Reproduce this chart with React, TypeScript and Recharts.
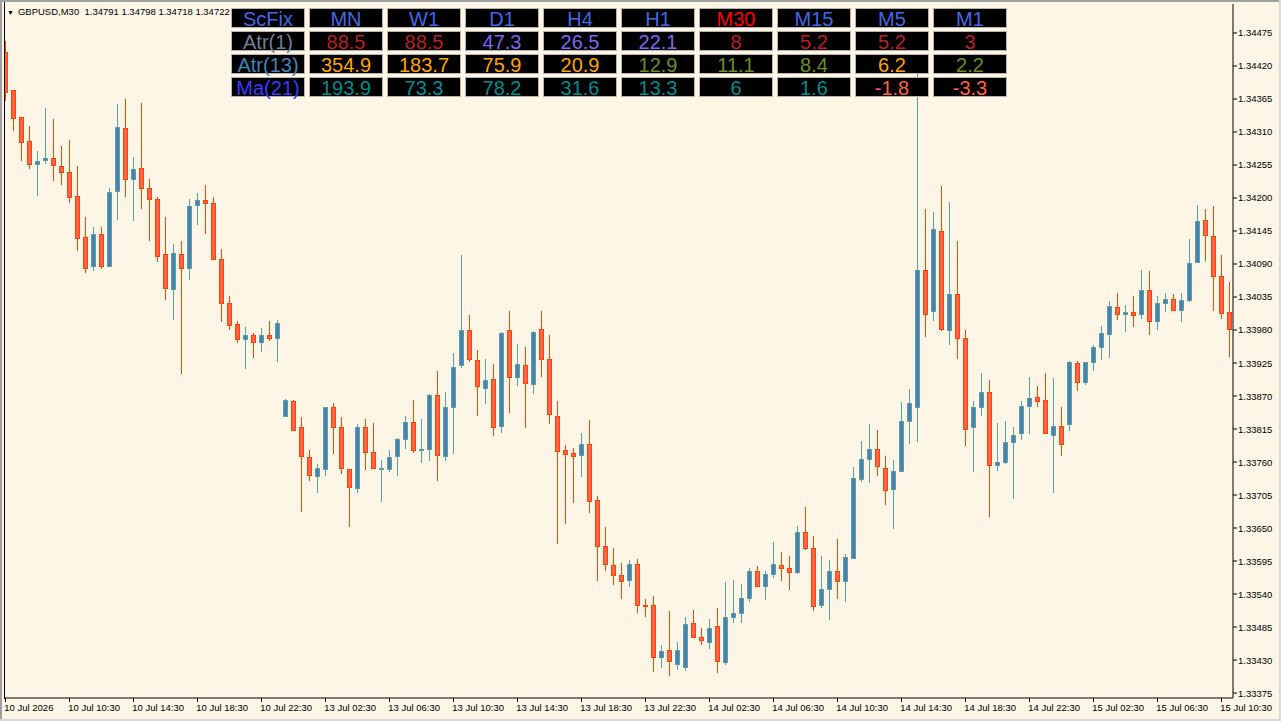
import React from "react";
import { ComposedChart, Bar, XAxis, YAxis } from "recharts";

// GBPUSD M30 candles (oldest first)
const OPEN = [
  1.34443, 1.3438, 1.34335, 1.34295, 1.34256, 1.34263, 1.34267, 1.34253, 1.34243, 1.34203,
  1.34135, 1.34086, 1.3414, 1.34087, 1.34211, 1.34316, 1.34232, 1.3425, 1.34216, 1.34199,
  1.34106, 1.34048, 1.34106, 1.34084, 1.34188, 1.34196, 1.34191, 1.34098, 1.34025, 1.3399,
  1.33965, 1.33971, 1.3396, 1.33971, 1.33966, 1.33837, 1.33861, 1.33818, 1.33768, 1.33736,
  1.33748, 1.33851, 1.33818, 1.33748, 1.33716, 1.33818, 1.33776, 1.33748, 1.33748, 1.3377,
  1.33799, 1.33826, 1.3378, 1.33781, 1.33871, 1.3377, 1.33851, 1.33921, 1.3398, 1.3393,
  1.33883, 1.33898, 1.3382, 1.3398, 1.33901, 1.33921, 1.3389, 1.33981, 1.33931, 1.33836,
  1.3378, 1.33775, 1.33771, 1.3379, 1.33696, 1.3362, 1.33588, 1.33571, 1.33563, 1.3359,
  1.33522, 1.33521, 1.33435, 1.33446, 1.33423, 1.33418, 1.33491, 1.33468, 1.3346, 1.33486,
  1.33427, 1.33501, 1.33508, 1.33533, 1.33578, 1.33553, 1.33573, 1.33588, 1.33583, 1.33576,
  1.33643, 1.33616, 1.33521, 1.33548, 1.33578, 1.33561, 1.336, 1.33731, 1.33765, 1.33781,
  1.3375, 1.33715, 1.33745, 1.33828, 1.33851, 1.3408, 1.34011, 1.34145, 1.3398, 1.3404,
  1.33966, 1.33818, 1.33851, 1.33877, 1.33755, 1.3376, 1.33793, 1.33808, 1.33853, 1.33868,
  1.33863, 1.33805, 1.3382, 1.33823, 1.33925, 1.33893, 1.33926, 1.33951, 1.33973, 1.34018,
  1.34006, 1.3401, 1.34006, 1.34046, 1.33995, 1.34025, 1.34031, 1.34013, 1.3403, 1.34093,
  1.34163, 1.34136, 1.3407, 1.3401,
];
const HIGH = [
  1.34462, 1.3438, 1.34335, 1.3432, 1.34278, 1.3435, 1.34332, 1.34287, 1.34297, 1.34253,
  1.34168, 1.34151, 1.34151, 1.34217, 1.34357, 1.34365, 1.34268, 1.34358, 1.34232, 1.34201,
  1.34168, 1.34123, 1.34128, 1.34198, 1.34208, 1.34222, 1.34201, 1.34115, 1.34037, 1.33995,
  1.33985, 1.33975, 1.33983, 1.33995, 1.33997, 1.33865, 1.33863, 1.33835, 1.3378, 1.33757,
  1.33852, 1.33858, 1.33835, 1.33749, 1.33823, 1.33832, 1.33825, 1.33763, 1.3378, 1.338,
  1.33837, 1.33863, 1.33832, 1.33873, 1.33912, 1.33877, 1.33942, 1.34105, 1.34005, 1.33947,
  1.33932, 1.33923, 1.33976, 1.34012, 1.33957, 1.33952, 1.33978, 1.34012, 1.33972, 1.33861,
  1.33788, 1.33783, 1.33808, 1.3383, 1.33703, 1.33652, 1.33616, 1.33591, 1.33596, 1.33598,
  1.33531, 1.33536, 1.33455, 1.33511, 1.3346, 1.33501, 1.33513, 1.33483, 1.33498, 1.33516,
  1.3356, 1.33563, 1.33557, 1.33583, 1.33587, 1.33578, 1.33627, 1.3361, 1.33603, 1.33653,
  1.33685, 1.33637, 1.33603, 1.33596, 1.33632, 1.33606, 1.33752, 1.33795, 1.33823, 1.33813,
  1.3377, 1.33763, 1.3386, 1.33882, 1.34422, 1.34182, 1.34177, 1.3422, 1.34193, 1.34128,
  1.3398, 1.33861, 1.33908, 1.33897, 1.33825, 1.33828, 1.33818, 1.33862, 1.33902, 1.33887,
  1.33908, 1.339, 1.33851, 1.33928, 1.33928, 1.33927, 1.33955, 1.33986, 1.34028, 1.34042,
  1.34021, 1.34037, 1.3408, 1.34078, 1.34037, 1.34041, 1.3404, 1.34041, 1.34131, 1.34188,
  1.34182, 1.34187, 1.34105, 1.3406,
];
const LOW = [
  1.34361, 1.34311, 1.34262, 1.34249, 1.34204, 1.34257, 1.34229, 1.34221, 1.34192, 1.34111,
  1.34075, 1.34079, 1.34082, 1.34086, 1.34163, 1.34202, 1.34162, 1.34182, 1.34129, 1.34094,
  1.3403, 1.33997, 1.33907, 1.34063, 1.34155, 1.3414, 1.34096, 1.33994, 1.3398, 1.33959,
  1.33915, 1.33934, 1.33944, 1.33961, 1.33927, 1.33836, 1.33812, 1.33677, 1.33729, 1.33709,
  1.33737, 1.33774, 1.3374, 1.33651, 1.33708, 1.33747, 1.33749, 1.33694, 1.33743, 1.33736,
  1.33781, 1.33775, 1.33759, 1.33761, 1.33729, 1.33762, 1.33774, 1.33916, 1.33926, 1.33837,
  1.33857, 1.33804, 1.33809, 1.33841, 1.33886, 1.33817, 1.33874, 1.33901, 1.33824, 1.33623,
  1.33656, 1.33691, 1.33735, 1.33675, 1.33562, 1.33579, 1.33555, 1.33532, 1.33551, 1.33508,
  1.33501, 1.3341, 1.33416, 1.33403, 1.33413, 1.33411, 1.33466, 1.33455, 1.33448, 1.33408,
  1.33422, 1.33492, 1.33492, 1.33527, 1.33551, 1.3353, 1.33567, 1.33562, 1.33547, 1.33574,
  1.33614, 1.33512, 1.33517, 1.33497, 1.33531, 1.33526, 1.33599, 1.33726, 1.33725, 1.33736,
  1.33688, 1.33648, 1.33744, 1.3379, 1.33793, 1.33968, 1.33995, 1.33979, 1.33955, 1.33931,
  1.33786, 1.33743, 1.33836, 1.33668, 1.33745, 1.33756, 1.33698, 1.33797, 1.33806, 1.33851,
  1.33807, 1.33708, 1.3377, 1.33811, 1.33878, 1.33888, 1.33911, 1.3393, 1.33933, 1.33996,
  1.33976, 1.33985, 1.33999, 1.33971, 1.3398, 1.3401, 1.34012, 1.33993, 1.34026, 1.34092,
  1.34095, 1.34011, 1.33998, 1.33935,
];
const CLOSE = [
  1.34377, 1.34334, 1.34293, 1.34256, 1.34262, 1.34267, 1.34255, 1.34244, 1.34201, 1.34134,
  1.34084, 1.3414, 1.34087, 1.3421, 1.34318, 1.34232, 1.34248, 1.34217, 1.34199, 1.34104,
  1.3405, 1.34108, 1.34084, 1.34186, 1.34196, 1.34191, 1.34098, 1.34025, 1.33988, 1.33965,
  1.33971, 1.3396, 1.33971, 1.33966, 1.33991, 1.33864, 1.33813, 1.3377, 1.33738, 1.3375,
  1.33851, 1.33818, 1.3375, 1.33718, 1.33818, 1.33776, 1.3375, 1.3375, 1.33768, 1.33799,
  1.33826, 1.3378, 1.33781, 1.33871, 1.33771, 1.33851, 1.33918, 1.3398, 1.33931, 1.33886,
  1.33896, 1.33818, 1.33975, 1.33901, 1.33923, 1.33891, 1.33976, 1.33931, 1.3384, 1.33778,
  1.33773, 1.3377, 1.3379, 1.33695, 1.3362, 1.3359, 1.33571, 1.33561, 1.3359, 1.33521,
  1.3352, 1.33435, 1.33445, 1.33428, 1.33446, 1.3349, 1.33468, 1.33463, 1.33483, 1.33428,
  1.33501, 1.33508, 1.33533, 1.33578, 1.33553, 1.33573, 1.3359, 1.33583, 1.33576, 1.33643,
  1.33616, 1.3352, 1.33548, 1.33578, 1.33561, 1.33601, 1.33733, 1.33765, 1.33781, 1.33753,
  1.33713, 1.33745, 1.33828, 1.33858, 1.3408, 1.34006, 1.34148, 1.33981, 1.3404, 1.33966,
  1.33815, 1.33851, 1.33877, 1.33755, 1.3376, 1.33794, 1.33805, 1.33853, 1.33866, 1.33861,
  1.33808, 1.3382, 1.3379, 1.33926, 1.33893, 1.33926, 1.33951, 1.33975, 1.3402, 1.34006,
  1.3401, 1.34005, 1.34046, 1.33995, 1.34025, 1.34031, 1.34013, 1.3403, 1.34091, 1.34161,
  1.34138, 1.3407, 1.34008, 1.33981,
];

// one time label every 8 bars
const X_TICK_LABELS = [
  "10 Jul 2026", "10 Jul 10:30", "10 Jul 14:30", "10 Jul 18:30", "10 Jul 22:30",
  "13 Jul 02:30", "13 Jul 06:30", "13 Jul 10:30", "13 Jul 14:30", "13 Jul 18:30",
  "13 Jul 22:30", "14 Jul 02:30", "14 Jul 06:30", "14 Jul 10:30", "14 Jul 14:30",
  "14 Jul 18:30", "14 Jul 22:30", "15 Jul 02:30", "15 Jul 06:30", "15 Jul 10:30",
];
const BARS_PER_LABEL = 8;

const Y_TICKS = [
  1.34475, 1.3442, 1.34365, 1.3431, 1.34255, 1.342, 1.34145, 1.3409, 1.34035, 1.3398,
  1.33925, 1.3387, 1.33815, 1.3376, 1.33705, 1.3365, 1.33595, 1.3354, 1.33485, 1.3343,
  1.33375,
];
const Y_DOMAIN = [1.333667, 1.345233];
const X_DOMAIN = [-0.04, 153.46];

const SYMBOL = "GBPUSD,M30";
const QUOTE = ["1.34791", "1.34798", "1.34718", "1.34722"];

// ScFix panel
const PANEL_TITLE = "ScFix";
const TIMEFRAMES = ["MN", "W1", "D1", "H4", "H1", "M30", "M15", "M5", "M1"];
const ROW_NAMES = ["Atr(1)", "Atr(13)", "Ma(21)"];
const ATR1 = ["88.5", "88.5", "47.3", "26.5", "22.1", "8", "5.2", "5.2", "3"];
const ATR13 = ["354.9", "183.7", "75.9", "20.9", "12.9", "11.1", "8.4", "6.2", "2.2"];
const MA21 = ["193.9", "73.3", "78.2", "31.6", "13.3", "6", "1.6", "-1.8", "-3.3"];

const BLUE = "#4169E1";
const RED = "#FF0000";
const FIRE = "#B22222";
const SLATE = "#7B68EE";
const ORANGE = "#FFA500";
const OLIVE = "#6B8E23";
const TEAL = "#008B8B";
const TOMATO = "#FF6347";
const HEAD_COLORS = [BLUE, BLUE, BLUE, BLUE, BLUE, RED, BLUE, BLUE, BLUE];
const ROW_NAME_COLORS = ["#708090", "#4682B4", "#3A3AFF"];
const ATR1_COLORS = [FIRE, FIRE, SLATE, SLATE, SLATE, FIRE, FIRE, FIRE, FIRE];
const ATR13_COLORS = [ORANGE, ORANGE, ORANGE, ORANGE, OLIVE, OLIVE, OLIVE, ORANGE, OLIVE];
const MA21_COLORS = [TEAL, TEAL, TEAL, TEAL, TEAL, TEAL, TEAL, TOMATO, TOMATO];

const BG = "#FDF6E6";
const BULL_FILL = "#4682B4";
const BULL_EDGE = "#5F9EA0";
const BEAR_FILL = "#FF6347";
const BEAR_EDGE = "#FF4500";
const FONT = "'Liberation Sans', Arial, sans-serif";

const data = OPEN.map((o, i) => ({
  idx: i,
  open: o,
  high: HIGH[i],
  low: LOW[i],
  close: CLOSE[i],
  range: [LOW[i], HIGH[i]],
}));

function Candle(props: any) {
  const { x, y, width, height, payload } = props;
  if (!payload) return null;
  const { open, high, low, close } = payload;
  const top = Math.min(y, y + height);
  const span = Math.abs(height);
  const k = span / (high - low || 1e-9);
  const py = (v: number) => top + (high - v) * k;
  const up = close > open;
  const edge = up ? BULL_EDGE : BEAR_EDGE;
  const cx = Math.round(x + width / 2);
  const bTop = Math.round(py(Math.max(open, close)));
  const bBot = Math.round(py(Math.min(open, close)));
  return (
    <g>
      <line x1={cx + 0.5} x2={cx + 0.5} y1={Math.round(top)} y2={Math.round(top + span)} stroke={edge} strokeWidth={1} />
      <rect
        x={cx - 1.5}
        y={bTop + 0.5}
        width={4}
        height={Math.max(bBot - bTop, 1)}
        fill={up ? BULL_FILL : BEAR_FILL}
        stroke={edge}
        strokeWidth={1}
      />
    </g>
  );
}

function TimeTick(props: any) {
  const { x, y, payload } = props;
  const label = X_TICK_LABELS[Math.round(payload.value / BARS_PER_LABEL)];
  const tx = Math.round(x) + 0.5;
  return (
    <g>
      <line x1={tx} x2={tx} y1={y - 4} y2={y} stroke="#000" />
      <text x={x - 1} y={y + 9} fontSize={9.5} fontFamily={FONT} fill="#000" textAnchor="start">
        {label}
      </text>
    </g>
  );
}

function PriceTick(props: any) {
  const { x, y, payload } = props;
  return (
    <text x={x} y={y} dy={3.5} fontSize={9.5} fontFamily={FONT} fill="#000" textAnchor="start">
      {Number(payload.value).toFixed(5)}
    </text>
  );
}

function Cell({ col, row, text, color }: { col: number; row: number; text: string; color: string }) {
  return (
    <div
      style={{
        position: "absolute",
        left: 231 + col * 78,
        top: 8 + row * 23,
        width: 74,
        height: 20,
        boxSizing: "border-box",
        background: "#000",
        border: "1px solid #B8B4AC",
        color,
        fontFamily: FONT,
        fontSize: 20,
        lineHeight: "20px",
        textAlign: "center",
        whiteSpace: "nowrap",
      }}
    >
      {text}
    </div>
  );
}

export default function App() {
  const rows = [ATR1, ATR13, MA21];
  const rowColors = [ATR1_COLORS, ATR13_COLORS, MA21_COLORS];
  const xTicks = X_TICK_LABELS.map((_, i) => i * BARS_PER_LABEL);

  return (
    <div style={{ position: "absolute", left: 0, top: 0, width: 1281, height: 721, background: BG, overflow: "hidden", fontFamily: FONT }}>
      <ComposedChart width={1281} height={721} data={data} margin={{ top: 4, right: 0, bottom: 0, left: 5 }}>
        <XAxis
          dataKey="idx"
          type="number"
          domain={X_DOMAIN}
          allowDataOverflow
          ticks={xTicks}
          interval={0}
          height={23}
          tickSize={4}
          tickMargin={0}
          tickLine={false}
          axisLine={{ stroke: "#000" }}
          tick={<TimeTick />}
        />
        <YAxis
          orientation="right"
          type="number"
          domain={Y_DOMAIN}
          allowDataOverflow
          ticks={Y_TICKS}
          interval={0}
          width={48}
          tickSize={4}
          tickMargin={1}
          tickLine={{ stroke: "#000" }}
          axisLine={{ stroke: "#000" }}
          tick={<PriceTick />}
        />
        <Bar dataKey="range" isAnimationActive={false} shape={(p: any) => <Candle {...p} />} />
      </ComposedChart>

      {/* window frame */}
      <div style={{ position: "absolute", left: 0, top: 0, width: 1281, height: 2, background: "#A0A0A0" }} />
      <div style={{ position: "absolute", left: 0, top: 0, width: 2, height: 721, background: "#A0A0A0" }} />
      <div style={{ position: "absolute", left: 0, top: 719, width: 1281, height: 2, background: "#D8D8D8" }} />
      <div style={{ position: "absolute", left: 1279, top: 0, width: 2, height: 721, background: "#D8D8D8" }} />
      <div style={{ position: "absolute", left: 4, top: 2, width: 1, height: 697, background: "#000" }} />

      {/* symbol header */}
      <div style={{ position: "absolute", left: 7, top: 5, fontSize: 9.5, lineHeight: "14px", color: "#000", whiteSpace: "pre" }}>
        <span style={{ fontSize: 7, marginRight: 4 }}>▼</span>
        {SYMBOL + "  " + QUOTE.join(" ")}
      </div>

      <Cell col={0} row={0} text={PANEL_TITLE} color={BLUE} />
      {TIMEFRAMES.map((tf, c) => (
        <Cell key={tf} col={c + 1} row={0} text={tf} color={HEAD_COLORS[c]} />
      ))}
      {ROW_NAMES.map((name, r) => (
        <React.Fragment key={name}>
          <Cell col={0} row={r + 1} text={name} color={ROW_NAME_COLORS[r]} />
          {rows[r].map((v, c) => (
            <Cell key={c} col={c + 1} row={r + 1} text={v} color={rowColors[r][c]} />
          ))}
        </React.Fragment>
      ))}
    </div>
  );
}
